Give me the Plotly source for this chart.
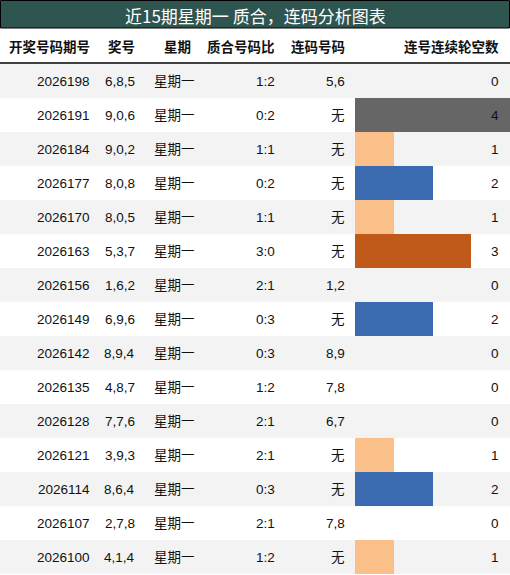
import plotly.graph_objects as go

periods = ["2026198","2026191","2026184","2026177","2026170","2026163","2026156","2026149","2026142","2026135","2026128","2026121","2026114","2026107","2026100"]
numbers = ["6,8,5","9,0,6","9,0,2","8,0,8","8,0,5","5,3,7","1,6,2","6,9,6","8,9,4","4,8,7","7,7,6","3,9,3","8,6,4","2,7,8","4,1,4"]
weekday = ["星期一"]*15
ratios = ["1:2","0:2","1:1","0:2","1:1","3:0","2:1","0:3","0:3","1:2","2:1","2:1","0:3","2:1","1:2"]
consec = ["5,6","无","无","无","无","无","1,2","无","8,9","7,8","6,7","无","无","7,8","无"]
gaps = [0,4,1,2,1,3,0,2,0,0,0,1,2,0,1]
headers = ["开奖号码期号","奖号","星期","质合号码比","连码号码","连号连续轮空数"]
title = "近15期星期一 质合，连码分析图表"

colmap = {1:"#fbc08a",2:"#3a6ab0",3:"#c05a1a",4:"#666666"}
W, H = 510, 575
top, rh = 64, 34
ys = [top + rh*i + rh/2 for i in range(len(periods))]

fig = go.Figure()
shapes = []
for i in range(len(periods)):
    if i % 2 == 0:
        shapes.append(dict(type="rect", x0=0, x1=W, y0=top+rh*i, y1=top+rh*(i+1),
                           fillcolor="#f3f3f3", line_width=0, layer="below"))
shapes.append(dict(type="rect", x0=0.5, x1=W-0.5, y0=0.5, y1=28, fillcolor="#2f5550",
                   line=dict(color="black", width=1), layer="below"))
shapes.append(dict(type="line", x0=0, x1=W, y0=63, y1=63, line=dict(color="black", width=1.5)))

unit = (W - 355) / 4
fig.add_trace(go.Bar(orientation="h", y=ys, x=[g*unit for g in gaps], base=355, width=rh,
                     marker=dict(color=[colmap.get(g, "rgba(0,0,0,0)") for g in gaps], line_width=0),
                     hoverinfo="skip"))

font = dict(family="Liberation Sans, Noto Sans CJK SC", size=13.5, color="#111")
cols = [(periods, 92, "right"), (numbers, 137, "right"), (weekday, 152, "left"),
        (ratios, 277, "right"), (consec, 347, "right"), ([str(g) for g in gaps], 501, "right")]
ann = []
for vals, x, al in cols:
    for v, y in zip(vals, ys):
        ann.append(dict(x=x, y=y, text=v, showarrow=False, xanchor=al, yanchor="middle", font=font))
hx = [(92, "right"), (137, "right"), (193, "right"), (277, "right"), (347, "right"), (501, "right")]
for h, (x, al) in zip(headers, hx):
    ann.append(dict(x=x, y=46, text="<b>"+h+"</b>", showarrow=False, xanchor=al, yanchor="middle",
                    font=dict(family="Noto Sans CJK SC", size=13.5, color="#111")))
ann.append(dict(x=W/2, y=15, text=title, showarrow=False, xanchor="center", yanchor="middle",
                font=dict(family="Noto Sans CJK SC", size=17, color="white")))

fig.update_layout(width=W, height=H, margin=dict(l=0, r=0, t=0, b=0), showlegend=False,
                  plot_bgcolor="white", paper_bgcolor="white", shapes=shapes, annotations=ann,
                  xaxis=dict(range=[0, W], visible=False, fixedrange=True),
                  yaxis=dict(range=[H, 0], visible=False, fixedrange=True), bargap=0)
fig.write_html("out.html", config={"displayModeBar": False},
               post_script="document.body.style.margin='0';document.body.style.overflow='hidden';")
